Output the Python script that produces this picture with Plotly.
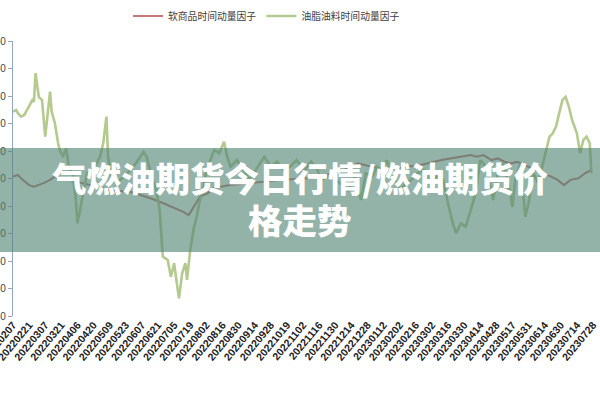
import plotly.graph_objects as go

# ---- data ----
tick_labels = ["20220207", "20220221", "20220307", "20220321", "20220406", "20220420",
               "20220509", "20220523", "20220607", "20220621", "20220705", "20220719",
               "20220802", "20220816", "20220830", "20220914", "20220928", "20221019",
               "20221102", "20221116", "20221130", "20221214", "20221228", "20230112",
               "20230202", "20230216", "20230302", "20230316", "20230330", "20230414",
               "20230428", "20230517", "20230531", "20230614", "20230630", "20230714",
               "20230728"]
tick_index = [i * 10 for i in range(len(tick_labels))]

oil_idx = [0, 2, 3, 5, 7, 10, 12, 13, 14, 16, 18, 20, 21, 23, 24, 26, 28, 29, 31, 33,
           35, 37, 39, 40, 42, 44, 46, 51, 54, 56, 58, 59, 61, 64, 69, 73, 77, 81, 83, 86,
           89, 91, 93, 96, 98, 100, 102, 103, 105, 107, 108, 110, 112, 114, 116, 118, 120,
           123, 125, 128, 131, 133, 135, 139, 143, 147, 152, 156, 160, 164, 168, 172, 176,
           181, 185, 189, 191, 197, 203, 208, 212, 216, 219, 223, 226, 229, 232, 235, 240,
           244, 247, 251, 255, 259, 263, 267, 270, 273, 275, 278, 281, 284, 286, 288, 290,
           292, 295, 298, 301, 304, 307, 310, 312, 315, 318, 320, 323, 326, 329, 331, 333,
           335, 337, 339, 341, 343, 345, 347, 350, 352, 354, 356, 358, 359]
oil_val = [24.3, 24.9, 23.8, 22.5, 23.1, 26.7, 28.5, 27.9, 38.3, 29.7, 28.5, 15.2, 21.3,
           31.6, 24.3, 20.1, 12.8, 10.4, 7.9, 11.0, 3.1, 1.9, -7.8, -16.3, -10.3, -4.2, 2.0,
           4.3, 7.9, 12.8, 22.5, 7.9, 0.7, -1.7, 0.7, 3.1, 6.1, 9.7, 7.9, 0.7, -4.2, -11.5,
           -28.4, -29.6, -35.7, -30.8, -40.5, -43.6, -34.5, -30.8, -36.9, -26.0, -18.7,
           -13.9, -7.8, -4.2, 3.1, 7.9, 10.4, 9.2, 13.4, 7.9, 4.3, 6.7, 3.1, -0.5, 4.3, 7.9,
           4.3, 6.1, 3.1, 4.3, 6.7, 3.1, 6.1, 3.1, -0.5, 0.7, -1.7, -4.2, 0.7, -7.8, 1.9,
           0.7, 4.3, 3.1, 6.7, 1.9, -4.2, -1.7, -0.5, 1.9, 3.1, -1.7, 0.7, -0.5, -9.0,
           -16.3, -19.9, -16.3, -17.5, -11.5, -7.8, -1.7, 6.7, 5.5, 0.7, -7.8, 1.9, 5.5,
           -0.5, -10.3, 0.7, 5.5, -13.9, -9.0, 1.9, -1.7, 5.5, 10.4, 15.2, 16.4, 18.8, 23.7,
           28.5, 29.7, 26.1, 21.3, 16.4, 9.2, 14.0, 15.2, 12.8, 1.9]

soft_idx = [0, 3, 6, 10, 13, 16, 19, 23, 26, 35, 48, 60, 73, 85, 93, 100, 104, 106, 109,
            112, 116, 121, 124, 135, 147, 166, 185, 203, 214, 222, 231, 239, 253, 266, 278,
            284, 288, 292, 297, 301, 305, 309, 313, 322, 330, 334, 338, 342, 346, 351, 355,
            359]
soft_val = [0.7, 1.3, -0.5, -2.4, -3.0, -2.4, -1.7, -0.5, 0.7, -0.5, -2.4, -4.2, -4.9,
            -7.1, -8.9, -10.7, -11.5, -12.2, -13.3, -10.4, -6.7, -5.3, -3.5, -2.4, -1.6,
            -0.5, 0.2, 2.4, 5.5, 4.5, 3.1, 3.8, 4.9, 6.7, 7.8, 8.5, 7.9, 8.5, 6.7, 7.3, 6.1,
            5.5, 6.1, 3.8, 1.9, 0.7, -0.5, -2.4, -0.5, 0.1, 1.9, 3.1]

y_ticks = [50, 40, 30, 20, 10, 0, -10, -20, -30, -40, -50]

series_names = ["软商品时间动量因子", "油脂油料时间动量因子"]
title_lines = ["气燃油期货今日行情/燃油期货价", "格走势"]

# ---- figure ----
fig = go.Figure()
fig.add_trace(go.Scatter(x=soft_idx, y=soft_val, mode="lines", name=series_names[0],
                         line=dict(color="#c4787a", width=2)))
fig.add_trace(go.Scatter(x=oil_idx, y=oil_val, mode="lines", name=series_names[1],
                         line=dict(color="#b5ca8e", width=2.6)))

L, R, T, B = 13, 7, 41, 84
W, H = 600, 400
pw = W - L - R
ph = H - T - B

fig.update_layout(
    width=W, height=H,
    margin=dict(l=L, r=R, t=T, b=B, pad=0, autoexpand=False),
    paper_bgcolor="white", plot_bgcolor="white",
    font=dict(family="Liberation Sans, Arial, sans-serif", color="#333"),
    showlegend=True,
    legend=dict(orientation="h", xref="container", yref="container",
                x=128 / W, xanchor="left",
                y=1 - 16 / H, yanchor="middle",
                font=dict(size=9.8, color="#404040", family="Noto Sans CJK SC"),
                itemwidth=30, bgcolor="rgba(0,0,0,0)"),
    xaxis=dict(range=[0, 360], tickmode="array", tickvals=tick_index, ticktext=tick_labels,
               tickangle=-50, showgrid=False, zeroline=False, showline=False,
               ticks="", ticklabeloverflow="allow",
               tickfont=dict(size=10.5, color="#222",
                             family="Liberation Sans, Arial", weight="bold"),
               automargin=False),
    yaxis=dict(range=[-50, 50], tickmode="array", tickvals=y_ticks,
               showgrid=False, zeroline=False, showline=True, linecolor="#93a6c4",
               linewidth=1.2, ticks="outside", ticklen=4, tickcolor="#93a6c4",
               ticklabeloverflow="allow",
               tickfont=dict(size=10, color="#444"), automargin=False),
)

# banner overlay
fig.add_shape(type="rect", xref="paper", yref="paper",
              x0=-L / pw - 0.01, x1=1 + R / pw + 0.01,
              y0=(H - B - 252) / ph, y1=(H - B - 148) / ph,
              fillcolor="rgba(80,130,115,0.62)", line=dict(width=0), layer="above")
for txt, yc in zip(title_lines, [177, 219]):
    fig.add_annotation(text=txt, xref="paper", yref="paper",
                       x=(300 - L) / pw, y=(H - B - yc) / ph,
                       xanchor="center", yanchor="middle",
                       showarrow=False, align="center",
                       font=dict(size=34.5, color="white", family="Noto Sans CJK SC",
                                 weight=900))

fig.write_html("out.html", config={"displayModeBar": False},
               post_script="document.body.style.margin='0';")
